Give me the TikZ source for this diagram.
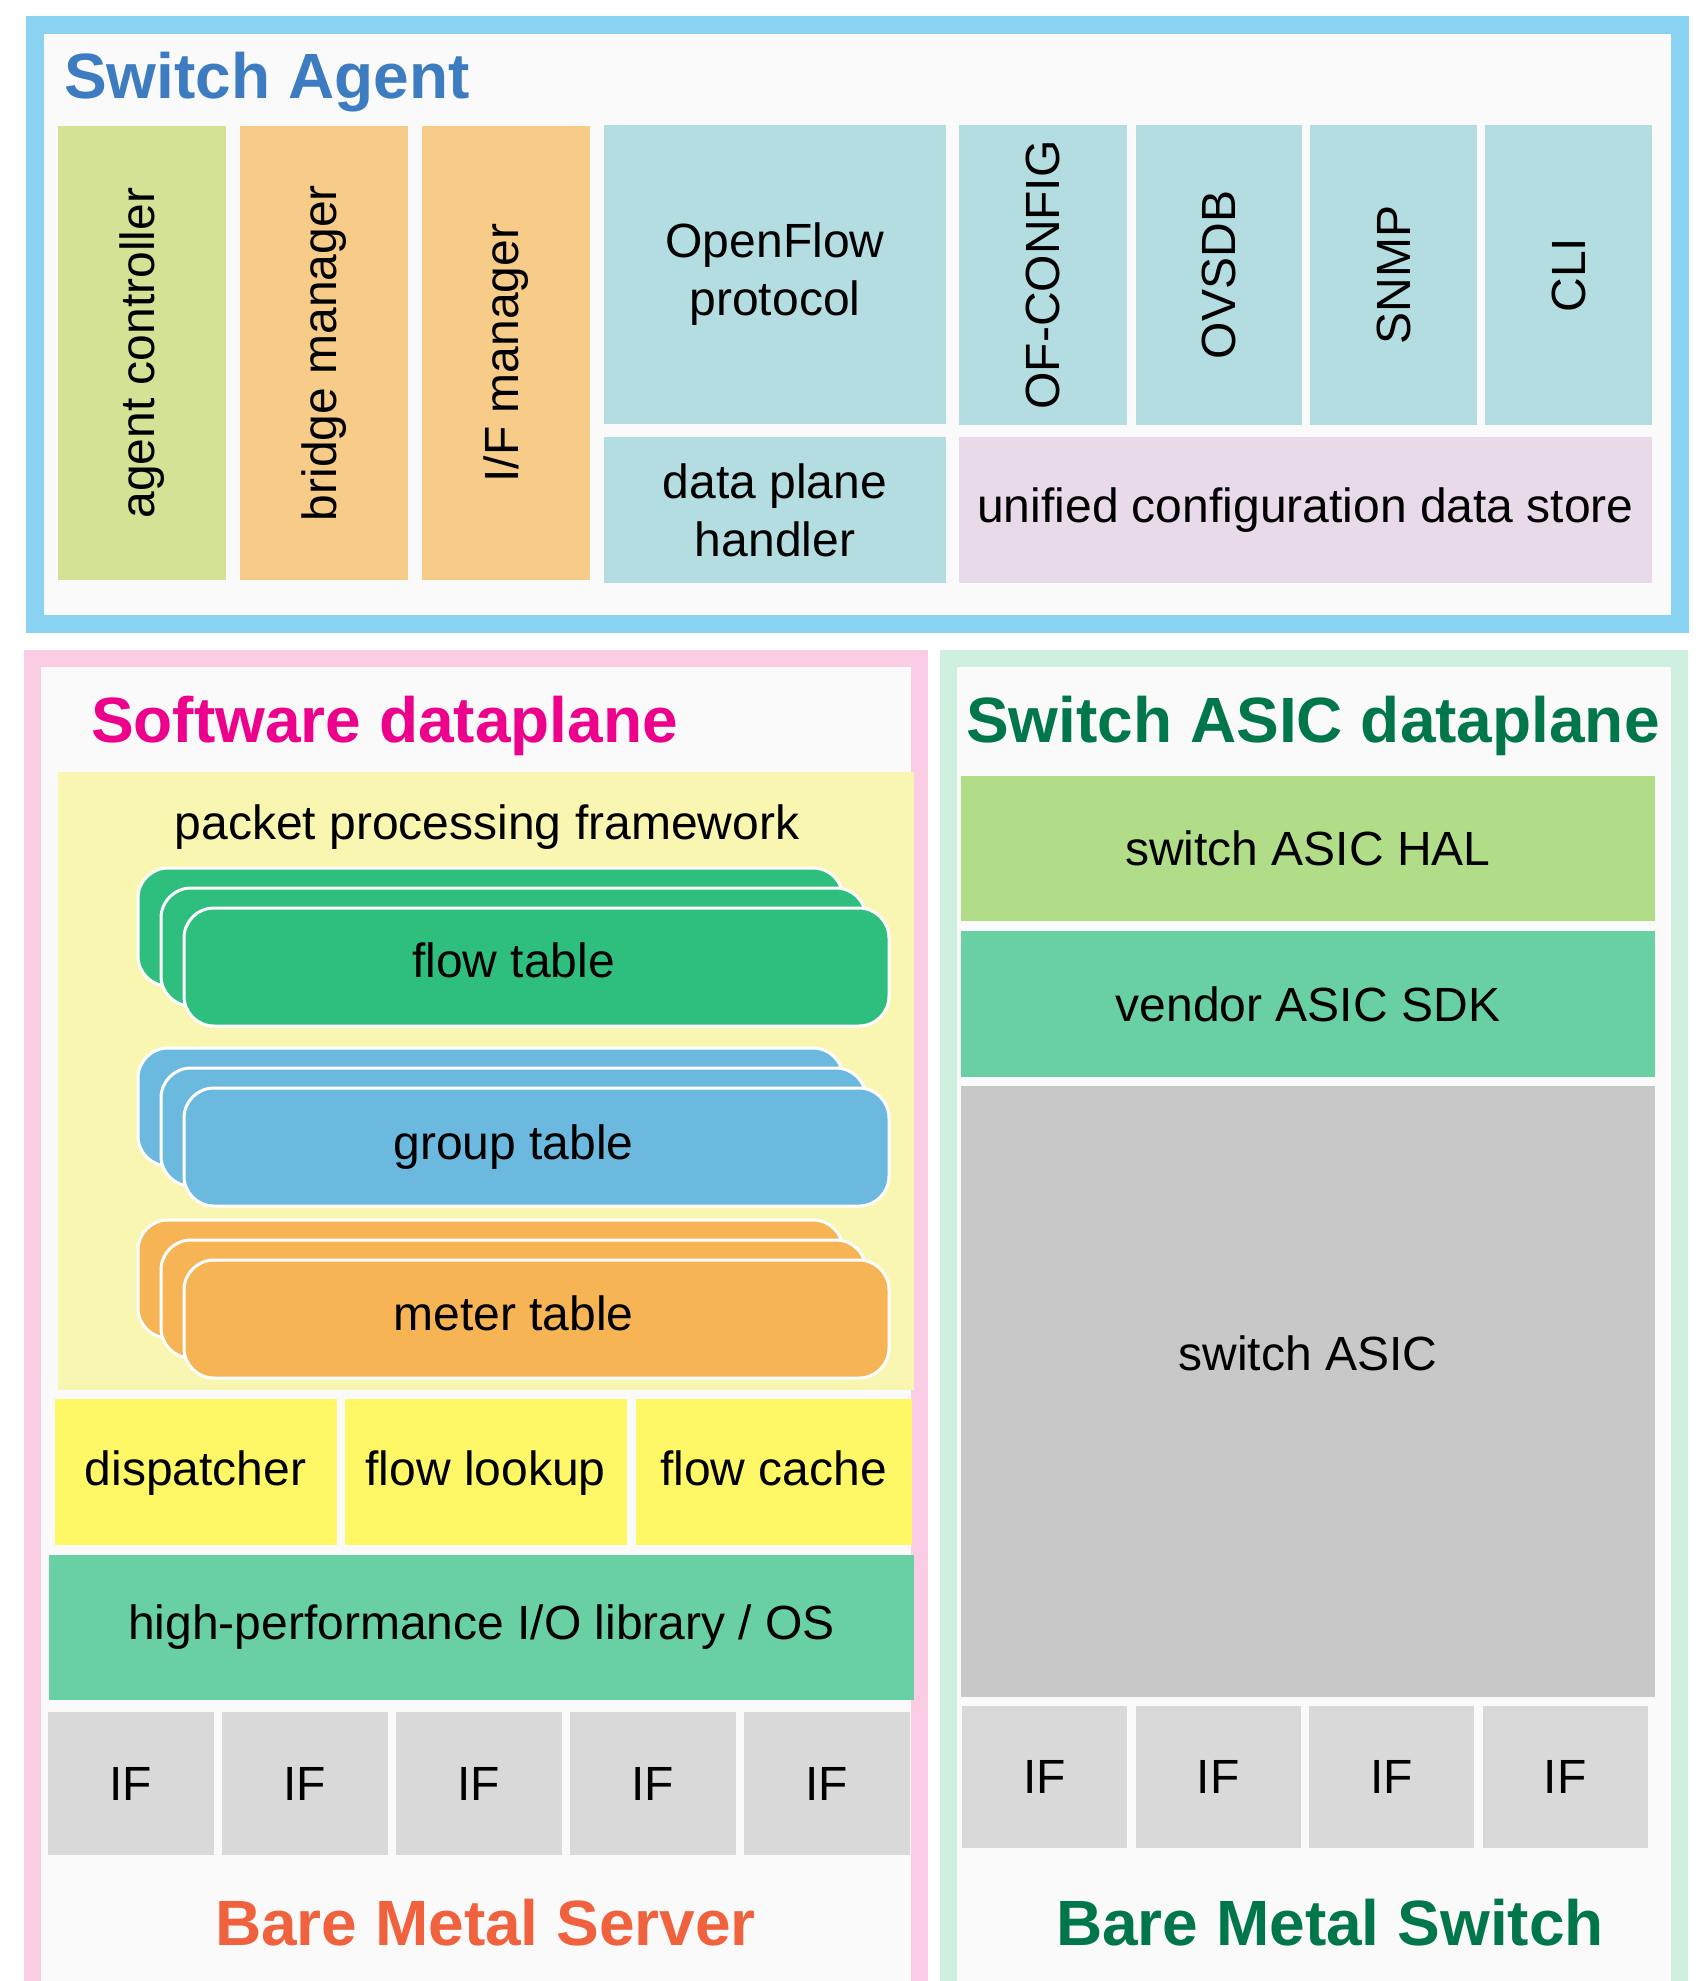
\documentclass[tikz,border=0pt]{standalone}
\usepackage{fontspec}
\setmainfont{Liberation Sans}
\usetikzlibrary{positioning}
\newcommand{\txtfont}{\fontsize{48}{58}\selectfont}
\newcommand{\ttlfont}{\fontsize{64}{72}\selectfont\bfseries}
\definecolor{agentc}{HTML}{89D2F2}
\definecolor{swc}{HTML}{FBCDE5}
\definecolor{hwc}{HTML}{CFEFDF}
\definecolor{panelc}{HTML}{FAFAFA}
\definecolor{sagent}{HTML}{3E7CC1}
\definecolor{sdp}{HTML}{EC008C}
\definecolor{hdp}{HTML}{00774A}
\definecolor{srvc}{HTML}{F0623E}
\definecolor{acc}{HTML}{D3E294}
\definecolor{mgrc}{HTML}{F7CB88}
\definecolor{protc}{HTML}{B3DDE0}
\definecolor{storec}{HTML}{E8DAE9}
\definecolor{ppfc}{HTML}{F8F6B0}
\definecolor{flowc}{HTML}{2EBE7E}
\definecolor{groupc}{HTML}{6CB9DF}
\definecolor{meterc}{HTML}{F6B455}
\definecolor{yelc}{HTML}{FEF766}
\definecolor{iolc}{HTML}{69D0A4}
\definecolor{ifc}{HTML}{D9D9D9}
\definecolor{halc}{HTML}{B2DD88}
\definecolor{asicc}{HTML}{C8C8C8}
\tikzstyle{b} = [rectangle, minimum width=168pt, minimum height=146pt, text centered, inner sep=0pt, font=\txtfont]
\tikzstyle{v} = [b, rotate=90, minimum width=454pt, minimum height=168pt]
\tikzstyle{t} = [inner sep=0pt, font=\txtfont]
\tikzstyle{yb} = [b, fill=yelc, text height=36pt, text depth=10pt]
\tikzstyle{tbl} = [rectangle, rounded corners=30pt, draw=white, line width=3pt, minimum width=705pt, minimum height=118pt]
\tikzstyle{iff} = [b, fill=ifc, minimum width=166pt, minimum height=143pt]
\tikzstyle{ttl} = [inner sep=0pt, font=\ttlfont, anchor=base west]
\tikzstyle{frame} = [line width=18pt, fill=panelc]

\begin{document}
\begin{tikzpicture}[x=1pt,y=-1pt]
		\useasboundingbox (0,0) rectangle (1696,1981);
		\clip (0,0) rectangle (1696,1981);
		\fill[white] (0,0) rectangle (1696,1981);
		
		% panels
		\draw[frame, draw=agentc] (35,25) rectangle (1679.5,624);
		\draw[frame, draw=swc, line width=17pt] (32.5,658.5) rectangle (919.5,2100);
		\draw[frame, draw=hwc, line width=17pt] (948.5,658.5) rectangle (1679.5,2100);
		
		\node[ttl, text=sagent](sa) at (64,98){Switch Agent};
		\node[ttl, text=sdp](sd) at (91,742){Software dataplane};
		\node[ttl, text=hdp](hd) at (966,742){Switch ASIC dataplane};
		
		% switch agent
		\node[v, fill=acc](ac) at (142,353){agent controller};
		\node[v, fill=mgrc](bm) at (324,353){bridge manager};
		\node[v, fill=mgrc](im) at (506,353){I/F manager};
		\node[b, fill=protc, minimum width=342pt, minimum height=299pt, align=center](of) at (775,274.5){OpenFlow\\protocol};
		\node[b, fill=protc, minimum width=342pt, align=center](dph) at (775,510){data plane\\handler};
		\node[v, fill=protc, minimum width=300pt, minimum height=168pt](ofc) at (1043,275){OF-CONFIG};
		\node[v, fill=protc, minimum width=300pt, minimum height=166pt](ovs) at (1219,275){OVSDB};
		\node[v, fill=protc, minimum width=300pt, minimum height=167pt](snmp) at (1393.5,275){SNMP};
		\node[v, fill=protc, minimum width=300pt, minimum height=167pt](cli) at (1568.5,275){CLI};
		\node[b, fill=storec, minimum width=693pt](ucds) at (1305.5,510){unified configuration data store};
		
		% software dataplane
		\node[b, fill=ppfc, minimum width=856pt, minimum height=618pt](ppf) at (486,1081){};
		\node[t, anchor=base](ppft) at (487,839){packet processing framework};
		\node[tbl, fill=flowc](ft3) at (490.5,927){};
		\node[tbl, fill=flowc, xshift=23pt, yshift=-20pt](ft2) at (ft3){};
		\node[tbl, fill=flowc, xshift=23pt, yshift=-20pt](ft) at (ft2){};
		\node[t, yshift=7pt](ftt) at (ft2 |- ft){flow table};
		\node[tbl, fill=groupc](gt3) at (490.5,1107){};
		\node[tbl, fill=groupc, xshift=23pt, yshift=-20pt](gt2) at (gt3){};
		\node[tbl, fill=groupc, xshift=23pt, yshift=-20pt](gt) at (gt2){};
		\node[t](gtt) at (gt2 |- gt){group table};
		\node[tbl, fill=meterc](mt3) at (490.5,1279){};
		\node[tbl, fill=meterc, xshift=23pt, yshift=-20pt](mt2) at (mt3){};
		\node[tbl, fill=meterc, xshift=23pt, yshift=-20pt](mt) at (mt2){};
		\node[t, yshift=6pt](mtt) at (mt2 |- mt){meter table};
		
		\node[yb, minimum width=282pt](dis) at (195.5,1472){dispatcher};
		\node[yb, minimum width=282pt, right of=dis, node distance=290pt](fl){flow lookup};
		\node[yb, minimum width=276pt, right of=fl, node distance=288pt](fc){flow cache};
		\node[b, fill=iolc, minimum width=865pt, minimum height=145pt](hp) at (481.5,1627.5){high-performance I/O library / OS};
		
		\node[iff](if1) at (130.5,1783.5){IF};
		\node[iff, right of=if1, node distance=174pt](if2){IF};
		\node[iff, right of=if2, node distance=174pt](if3){IF};
		\node[iff, right of=if3, node distance=174pt](if4){IF};
		\node[iff, right of=if4, node distance=174pt](if5){IF};
		\node[t, font=\ttlfont, text=srvc, anchor=base](bms) at (485.5,1945){Bare Metal Server};
		
		% switch ASIC dataplane
		\node[b, fill=halc, minimum width=694pt, minimum height=145pt](hal) at (1308,848.5){switch ASIC HAL};
		\node[b, fill=iolc, minimum width=694pt](sdk) at (1308,1004){vendor ASIC SDK};
		\node[b, fill=asicc, minimum width=694pt, minimum height=611pt](asic) at (1308,1391.5){};
		\node[t, yshift=38pt](asict) at (asic){switch ASIC};
		
		\node[iff, minimum width=165pt, minimum height=142pt](if6) at (1044.5,1777){IF};
		\node[iff, minimum width=165pt, minimum height=142pt, right of=if6, node distance=173.5pt](if7){IF};
		\node[iff, minimum width=165pt, minimum height=142pt, right of=if7, node distance=173.5pt](if8){IF};
		\node[iff, minimum width=165pt, minimum height=142pt, right of=if8, node distance=173.5pt](if9){IF};
		\node[t, font=\ttlfont, text=hdp, anchor=base](bmsw) at (1330,1945){Bare Metal Switch};
		\end{tikzpicture}
\end{document}
